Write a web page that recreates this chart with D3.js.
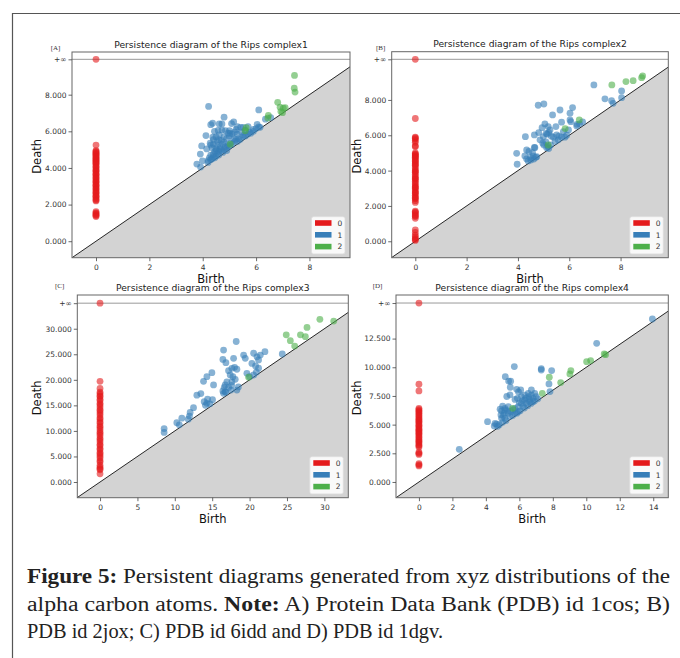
<!DOCTYPE html>
<html><head><meta charset="utf-8">
<script src="https://cdn.jsdelivr.net/npm/d3@7"></script>
<style>body{margin:0;background:#fff}svg{display:block}</style>
</head><body>
<svg id="c" width="680" height="658"></svg>
<script>
// ---------------- DATA ----------------
// H0 deaths (birth = 0); Infinity = essential class
const A_h0 = [Infinity,5.25,4.95,4.9,4.85,4.8,4.75,4.7,4.65,4.6,4.55,4.5,4.45,4.4,4.35,4.3,4.25,4.2,4.1,4.05,4.0,3.9,3.85,3.8,3.7,3.65,3.6,3.5,3.45,3.4,3.3,3.25,3.2,3.1,3.05,3.0,2.9,2.85,2.8,2.7,2.65,2.6,2.5,2.45,2.4,2.3,2.25,2.2,1.62,1.55,1.5,1.45,1.4,1.35];
const A_h1 = [[4.22,7.36],[6.1,7.17],[4.8,6.77],[4.3,6.36],[4.37,6.44],[4.62,6.4],[4.72,6.4],[5.08,6.42],[5.16,6.52],[6.35,6.66],[6.04,6.38],[6.1,6.24],[5.42,6.22],[5.52,6.22],[4.44,6.0],[4.58,6.05],[4.72,6.07],[4.85,6.04],[5.0,6.04],[5.02,5.9],[4.12,5.77],[4.38,5.68],[3.96,5.2],[3.91,4.76],[3.78,4.21],[3.92,4.05],[3.99,4.39],[4.15,5.04],[4.3,5.25],[4.4,5.3],[4.55,5.45],[4.6,5.55],[4.7,5.5],[4.75,5.3],[4.65,5.15],[4.5,5.05],[4.45,4.9],[4.3,4.7],[4.25,4.55],[4.2,4.4],[4.3,4.45],[4.4,4.6],[4.5,4.65],[4.55,4.8],[4.6,4.9],[4.7,4.95],[4.8,5.0],[4.85,5.15],[4.9,5.1],[4.95,5.25],[5.0,5.2],[5.05,5.35],[5.1,5.3],[5.2,5.45],[5.25,5.55],[5.3,5.45],[5.35,5.6],[5.4,5.55],[5.5,5.7],[5.55,5.8],[5.6,5.75],[5.7,5.85],[5.75,5.95],[5.8,5.9],[5.9,6.0],[6.0,6.15],[4.35,4.5],[4.45,4.55],[4.6,4.7],[4.75,4.85],[4.9,4.95],[4.2,4.3],[4.4,4.75],[4.5,4.95],[4.65,5.05],[4.8,5.4],[4.9,5.6],[5.0,5.75],[5.1,5.85],[5.2,5.95],[5.3,5.85],[5.45,5.95],[5.6,6.05],[5.15,5.6],[4.35,5.1],[4.55,5.25],[4.62,5.8],[4.5,5.7],[4.4,5.55],[4.28,5.35],[4.8,5.7],[4.95,5.9],[5.25,6.1],[5.3,6.25],[5.9,6.1],[6.15,6.22],[5.7,6.25],[6.55,6.75]];
const A_h2 = [[7.44,9.05],[7.43,8.35],[7.46,8.14],[6.81,7.58],[6.9,7.32],[7.02,7.26],[7.09,7.29],[6.93,7.08],[6.99,7.02],[6.46,6.87],[6.44,6.72],[5.63,6.2],[5.59,6.03],[5.03,5.3]];

const B_h0 = [Infinity,6.95,5.9,5.85,5.8,5.7,5.6,5.4,5.35,5.0,4.95,4.9,4.85,4.8,4.75,4.7,4.6,4.55,4.5,4.4,4.35,4.3,4.2,4.1,4.0,3.95,3.9,3.8,3.7,3.6,3.55,3.5,3.4,3.3,3.2,3.1,3.05,3.0,2.9,2.8,2.75,2.7,2.6,2.5,2.45,2.4,2.3,2.2,1.7,1.65,1.6,1.5,1.45,1.4,1.3,0.65,0.5,0.35,0.25,0.15,0.1,0.05];
const B_h1 = [[6.96,8.85],[7.39,8.06],[7.65,7.96],[7.71,7.81],[8.04,8.51],[8.04,8.13],[4.79,7.7],[5.01,7.77],[5.64,7.43],[6.13,7.57],[6.03,7.25],[5.35,7.15],[4.29,5.92],[3.95,4.98],[3.97,4.36],[4.64,6.02],[4.81,6.15],[4.94,6.43],[5.05,6.64],[5.18,6.49],[5.48,6.49],[5.7,6.74],[6.06,6.77],[6.03,6.87],[5.77,6.21],[5.97,6.3],[6.29,6.53],[6.52,6.75],[6.3,6.62],[4.86,5.74],[4.99,5.92],[5.14,6.06],[5.25,6.3],[5.38,5.89],[5.51,6.02],[5.57,5.74],[5.7,5.89],[5.83,5.89],[4.34,5.17],[4.43,5.08],[4.57,5.02],[4.64,5.32],[4.66,5.3],[4.27,4.83],[4.34,4.66],[4.49,4.74],[4.6,4.82],[4.62,4.65],[4.73,4.79],[5.01,5.45],[5.09,5.62],[5.18,5.36],[5.12,5.3],[4.97,5.55],[5.27,5.45],[5.2,5.25],[4.5,4.6],[4.4,4.55],[4.7,4.75],[5.3,5.95],[5.1,6.1],[5.2,6.15],[5.45,5.65],[5.9,6.0],[5.6,5.95],[6.4,6.65]];
const B_h2 = [[7.66,8.85],[8.21,9.04],[8.49,9.09],[8.82,9.26],[8.86,9.36],[6.39,6.87],[5.84,6.38],[5.18,5.45]];

const C_h0 = [Infinity,19.7,18.3,17.6,17.3,16.9,16.7,16.2,15.9,15.4,15.1,14.7,14.2,13.9,13.5,13.1,12.6,12.3,11.8,11.5,11.0,10.7,10.3,9.8,9.5,9.1,8.6,8.3,7.9,7.4,7.1,6.6,6.3,5.8,5.5,5.1,4.7,4.2,3.9,3.3,2.9,2.6,2.4,1.6];
const C_h1 = [[8.57,10.45],[8.57,9.7],[10.27,11.6],[10.94,12.5],[10.6,11.2],[12.05,13.6],[11.96,12.9],[11.8,12.3],[12.5,14.55],[12.95,17.0],[13.48,17.3],[13.84,19.7],[14.29,20.61],[14.96,21.4],[15.18,19.0],[13.93,15.72],[14.38,16.2],[14.29,15.4],[15.04,16.1],[14.7,15.3],[14.1,15.0],[16.52,25.83],[16.43,24.0],[16.83,23.35],[18.21,27.5],[17.86,24.2],[17.63,22.24],[17.99,22.44],[18.3,22.07],[17.19,21.79],[17.41,20.94],[17.77,20.61],[18.08,20.1],[16.96,19.6],[16.74,19.0],[17.63,19.6],[16.61,18.53],[16.43,17.81],[16.52,17.35],[16.74,17.66],[17.2,18.5],[17.5,18.0],[18.3,17.99],[18.5,18.6],[19.2,24.85],[19.42,24.2],[19.64,21.27],[20.31,23.2],[20.54,25.2],[20.98,24.5],[21.2,23.9],[21.43,24.85],[21.2,22.26],[20.8,22.7],[20.54,20.94],[20.0,20.61],[22.05,25.5],[24.37,25.05],[20.9,21.5],[16.8,17.6],[17.6,18.9]];
const C_h2 = [[24.9,28.8],[25.45,27.66],[26.8,28.8],[27.68,30.26],[27.46,28.44],[29.4,31.84],[31.25,31.5],[26.03,26.6],[19.87,20.5]];

const D_h0 = [Infinity,8.52,7.94,6.42,6.3,6.2,6.1,6.0,5.85,5.75,5.6,5.5,5.4,5.3,5.2,5.05,4.95,4.85,4.7,4.6,4.5,4.4,4.3,4.2,4.1,3.95,3.85,3.7,3.6,3.5,3.4,3.25,3.15,3.05,2.6,2.5,2.4,1.6,1.5,1.4];
const D_h1 = [[13.95,14.21],[10.62,12.09],[2.41,2.85],[4.1,5.26],[5.7,10.06],[5.16,9.18],[5.36,8.8],[5.48,8.78],[5.46,8.26],[7.31,9.88],[7.31,9.76],[7.93,9.71],[5.84,8.08],[6.08,8.02],[5.95,7.85],[5.44,7.6],[5.25,7.45],[7.77,8.55],[7.83,7.88],[4.5,4.88],[4.64,5.05],[4.55,5.1],[4.94,5.55],[5.04,5.8],[4.94,6.2],[5.14,6.42],[5.0,6.6],[5.33,5.99],[5.49,6.14],[5.63,6.28],[5.73,6.42],[5.93,6.57],[6.12,6.86],[6.32,7.15],[6.56,7.44],[6.72,7.58],[6.92,7.73],[6.12,7.44],[6.32,7.58],[5.88,7.29],[5.74,7.2],[5.34,6.57],[5.14,6.28],[6.22,6.57],[6.42,6.86],[6.62,7.0],[6.82,7.29],[7.0,7.44],[4.9,5.84],[5.14,5.55],[5.44,5.7],[5.74,6.0],[5.94,6.14],[6.53,7.73],[6.72,8.02],[4.8,5.0],[4.7,4.85],[5.0,5.2],[5.2,5.35],[5.6,5.8],[5.85,6.0],[6.05,6.2],[6.3,6.45],[6.5,6.65],[6.7,6.85],[6.9,7.05],[7.1,7.25],[4.85,6.35],[5.1,6.0],[5.3,6.2],[6.0,6.9],[6.2,7.1],[6.4,7.3],[6.6,7.2],[6.8,7.0]];
const D_h2 = [[11.07,11.16],[11.15,11.1],[10.26,10.58],[10.02,10.49],[9.08,9.71],[9.02,9.42],[8.47,8.67],[7.79,9.13],[7.37,7.73],[5.6,6.42]];

// tick values
const A_xt = [0,2,4,6,8],  A_yt = [0,2,4,6,8];
const B_xt = [0,2,4,6,8],  B_yt = [0,2,4,6,8];
const C_xt = [0,5,10,15,20,25,30], C_yt = [0,5,10,15,20,25,30];
const D_xt = [0,2,4,6,8,10,12,14], D_yt = [0,2.5,5,7.5,10,12.5];
const dimLabels = ["0","1","2"];
const titles = ["Persistence diagram of the Rips complex1","Persistence diagram of the Rips complex2","Persistence diagram of the Rips complex3","Persistence diagram of the Rips complex4"];
const tags = ["[A]","[B]","[C]","[D]"];
const captionLines = [
  [["Figure 5:",true],[" Persistent diagrams generated from xyz distributions of the",false]],
  [["alpha carbon atoms. ",false],["Note:",true],[" A) Protein Data Bank (PDB) id 1cos; B)",false]],
  [["PDB id 2jox; C) PDB id 6idd and D) PDB id 1dgv.",false]]
];

// ---------------- LAYOUT ----------------
const panels = [
  {x0:72,  x1:350,   y0:52,   y1:257.7, xd:[-0.9,9.52],  yd:[-0.9,10.33], inf:9.93, xt:A_xt, yt:A_yt, h0:A_h0, h1:A_h1, h2:A_h2, tagX:50.7, tagY:50, ylx:40.5, top:true},
  {x0:391.7,x1:668.3,y0:51.7, y1:257.7, xd:[-0.92,9.86], yd:[-0.93,10.73], inf:10.3, xt:B_xt, yt:B_yt, h0:B_h0, h1:B_h1, h2:B_h2, tagX:376, tagY:50, ylx:360.5, top:true},
  {x0:77.3, x1:348.3,y0:295,  y1:497.7, xd:[-3.04,33.2], yd:[-3.07,36.6], inf:35.0, xt:C_xt, yt:C_yt, h0:C_h0, h1:C_h1, h2:C_h2, tagX:55, tagY:288, ylx:40.5, top:false},
  {x0:396,  x1:668.3,y0:295,  y1:497.7, xd:[-1.37,14.9], yd:[-1.37,16.3], inf:15.6, xt:D_xt, yt:D_yt, h0:D_h0, h1:D_h1, h2:D_h2, tagX:372.7, tagY:288, ylx:360.5, top:false}
];
const colors = ["#e41a1c","#377eb8","#4daf4a"];
const sans = "DejaVu Sans, sans-serif";

const svg = d3.select("#c");
const defs = svg.append("defs");
defs.append("clipPath").attr("id","topclip").append("rect").attr("x",0).attr("y",0).attr("width",680).attr("height",284);

// outer frame
svg.append("path").attr("d","M12.5,658 V13.5 H680").attr("fill","none").attr("stroke","#555").attr("stroke-width",1.2);

panels.forEach((p,i)=>{
  const x = d3.scaleLinear().domain(p.xd).range([p.x0,p.x1]);
  const y = d3.scaleLinear().domain(p.yd).range([p.y1,p.y0]);
  const g = svg.append("g");
  const cid = "clip"+i;
  defs.append("clipPath").attr("id",cid).append("rect")
    .attr("x",p.x0).attr("y",p.y0).attr("width",p.x1-p.x0).attr("height",p.y1-p.y0);
  const pg = g.append("g").attr("clip-path",`url(#${cid})`);
  const diag = [p.xd[0], p.xd[1]];
  pg.append("path").datum(diag)
    .attr("d", d3.area().x(d=>x(d)).y0(y(p.yd[0])).y1(d=>y(d)))
    .attr("fill","#d3d3d3");
  pg.append("path").datum(diag)
    .attr("d", d3.line().x(d=>x(d)).y(d=>y(d)))
    .attr("fill","none").attr("stroke","#111").attr("stroke-width",0.9);
  pg.append("line").attr("x1",x(p.xd[0])).attr("x2",x(p.xd[1]))
    .attr("y1",y(p.inf)).attr("y2",y(p.inf)).attr("stroke","#999").attr("stroke-width",1);
  const pts = [];
  p.h0.forEach(d=>pts.push({b:0, d:d, k:0}));
  p.h1.forEach(d=>pts.push({b:d[0], d:d[1], k:1}));
  p.h2.forEach(d=>pts.push({b:d[0], d:d[1], k:2}));
  pg.selectAll("circle").data(pts).join("circle")
    .attr("cx",d=>x(d.b)).attr("cy",d=>y(isFinite(d.d)?d.d:p.inf))
    .attr("r",3.4).attr("fill",d=>colors[d.k]).attr("fill-opacity",0.6);
  g.append("rect").attr("x",p.x0).attr("y",p.y0).attr("width",p.x1-p.x0).attr("height",p.y1-p.y0)
    .attr("fill","none").attr("stroke","#666").attr("stroke-width",1);
  const fmt = d3.format(".3f");
  const xa = g.append("g").attr("transform",`translate(0,${p.y1})`)
    .call(d3.axisBottom(x).tickValues(p.xt).tickSize(3.5).tickPadding(3).tickFormat(d3.format("d")));
  const ya = g.append("g").attr("transform",`translate(${p.x0},0)`)
    .call(d3.axisLeft(y).tickValues(p.yt.concat([p.inf])).tickSize(3.5).tickPadding(2)
      .tickFormat(d=> d===p.inf ? "+\u221e" : fmt(d)));
  [xa,ya].forEach(a=>{
    a.select(".domain").remove();
    a.selectAll("line").attr("stroke","#444").attr("stroke-width",0.8);
    a.selectAll("text").attr("font-family",sans).attr("font-size",7.5).attr("fill","#333");
  });
  g.append("text").attr("x",(p.x0+p.x1)/2).attr("y",p.y0-4.5).attr("text-anchor","middle")
    .attr("font-family",sans).attr("font-size",9.2).attr("fill","#222").text(titles[i]);
  g.append("text").attr("x",p.tagX).attr("y",p.tagY).attr("font-family","Liberation Serif, serif")
    .attr("font-size",7).attr("fill","#333").text(tags[i]);
  const bl = g.append("text").attr("x",(p.x0+p.x1)/2).attr("y",p.y1+25).attr("text-anchor","middle")
    .attr("font-family",sans).attr("font-size",11.5).attr("fill","#111").text("Birth");
  if(p.top) bl.attr("clip-path","url(#topclip)");
  const yc = (p.y0+p.y1)/2+1.5;
  g.append("text").attr("transform",`translate(${p.ylx},${yc}) rotate(-90)`).attr("text-anchor","middle")
    .attr("font-family",sans).attr("font-size",11.5).attr("fill","#111").text("Death");
  const lx = p.x1-38.5, ly = p.y1-41;
  const lg = g.append("g");
  lg.append("rect").attr("x",lx).attr("y",ly).attr("width",33.5).attr("height",37.2).attr("rx",2)
    .attr("fill","#fff").attr("fill-opacity",0.85).attr("stroke","#ddd").attr("stroke-width",0.8);
  dimLabels.forEach((t,k)=>{
    const cy = ly+6.3+k*11.8;
    lg.append("rect").attr("x",lx+3.5).attr("y",cy-2.8).attr("width",16.5).attr("height",5.6).attr("fill",colors[k]);
    lg.append("text").attr("x",lx+26).attr("y",cy+2.7).attr("font-family",sans).attr("font-size",7.5)
      .attr("fill","#333").text(t);
  });
});

// caption
const baselines = [583, 611, 638];
const capWidths = [643, 643, 416];
captionLines.forEach((line,li)=>{
  const t = svg.append("text").attr("x",27).attr("y",baselines[li])
    .attr("font-family","Liberation Serif, serif").attr("font-size",20.5).attr("fill","#222")
    .attr("textLength",capWidths[li]).attr("lengthAdjust","spacingAndGlyphs");
  line.forEach(([s,b])=>{
    t.append("tspan").attr("font-weight",b?"bold":"normal").text(s);
  });
});
</script>
</body></html>
